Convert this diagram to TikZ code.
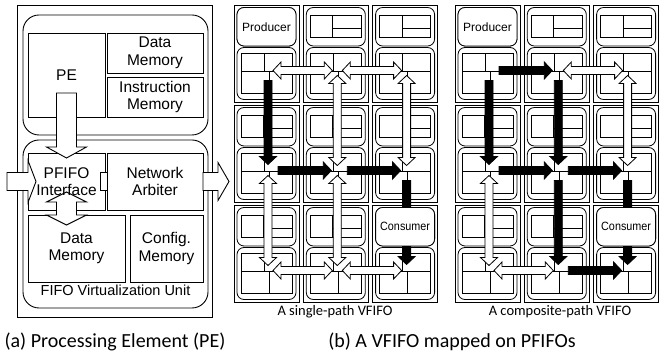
\documentclass[tikz,border=0pt]{standalone}
\usepackage{fontspec}
\setmainfont{Liberation Sans}
\newfontfamily\capfont{Carlito}
\newfontfamily\narrowfont[FakeStretch=0.9]{Liberation Sans}
\usetikzlibrary{calc}
\tikzset{
  gap s/.store in=\gapS, gap t/.store in=\gapT,
  arr shaft/.store in=\shaftw, arr head/.store in=\headw, arr len/.store in=\headl,
  gap s=0pt, gap t=0pt, arr shaft=4pt, arr head=8.5pt, arr len=8pt,
  % fat arrow drawn as an outline between two points
  one way/.style={to path={
    ($(\tikztostart)!\gapS!(\tikztotarget)$) coordinate (arrS)
    ($(\tikztotarget)!\gapT!(\tikztostart)$) coordinate (arrT)
    ($(arrT)!\headl!(\tikztostart)$) coordinate (arrQ)
    ($(arrS)!\shaftw!90:(\tikztotarget)$) -- ($(arrQ)!\shaftw!90:(\tikztotarget)$)
    -- ($(arrQ)!\headw!90:(\tikztotarget)$) -- (arrT)
    -- ($(arrQ)!\headw!-90:(\tikztotarget)$) -- ($(arrQ)!\shaftw!-90:(\tikztotarget)$)
    -- ($(arrS)!\shaftw!-90:(\tikztotarget)$) -- cycle}},
  both ways/.style={to path={
    ($(\tikztostart)!\gapS!(\tikztotarget)$) coordinate (arrS)
    ($(\tikztotarget)!\gapT!(\tikztostart)$) coordinate (arrT)
    ($(arrS)!\headl!(\tikztotarget)$) coordinate (arrP)
    ($(arrT)!\headl!(\tikztostart)$) coordinate (arrQ)
    (arrS) -- ($(arrP)!\headw!90:(\tikztotarget)$) -- ($(arrP)!\shaftw!90:(\tikztotarget)$)
    -- ($(arrQ)!\shaftw!90:(\tikztotarget)$) -- ($(arrQ)!\headw!90:(\tikztotarget)$) -- (arrT)
    -- ($(arrQ)!\headw!-90:(\tikztotarget)$) -- ($(arrQ)!\shaftw!-90:(\tikztotarget)$)
    -- ($(arrP)!\shaftw!-90:(\tikztotarget)$) -- ($(arrP)!\headw!-90:(\tikztotarget)$) -- cycle}},
  busy/.style={one way, fill=black, draw=black, line width=0.8pt, gap s=10pt, gap t=6pt},
  idle/.style={both ways, fill=white, draw=black, line width=0.8pt, gap s=5pt, gap t=5pt},
  big/.style={fill=white, draw=black, arr shaft=10pt, arr head=20pt, arr len=11pt},
  unit/.style={draw, align=center, inner sep=0pt, font=\fontsize{15.5}{17.5}\selectfont},
  pc/.style={draw, fill=white, rounded corners=7pt, minimum width=59pt, minimum height=38.5pt,
    inner sep=0pt, line width=0.8pt},
  caption/.style={font=\capfont\fontsize{20}{24}\selectfont},
  subcaption/.style={font=\capfont\fontsize{14.5}{16}\selectfont},
}
% one miniature PE tile, origin at its top left corner
\newcommand{\petile}{%
  \draw (0,0) rectangle (65,97);
  \draw[rounded corners=7pt] (3,2.5) rectangle (62,41);
  \draw (7,10) rectangle (58,32) (29.5,10) -- (29.5,32) (29.5,23) -- (58,23);
  \draw[rounded corners=7pt] (3,42.5) rectangle (62,94.5);
  \draw (7,48.5) rectangle (58,88.5) (7,66) -- (58,66) (30,48.5) -- (30,66) (35,66) -- (35,88.5);
}
% 3x3 mesh of tiles: #1 name prefix, #2 left edge
\newcommand{\pegrid}[2]{%
  \foreach \c in {1,2,3} \foreach \r in {1,2,3} {
    \begin{scope}[shift={({#2+69.3*(\c-1)},{5+100*(\r-1)})}, line width=0.8pt]
      \petile
      \coordinate (#1-\c-\r) at (34,65.5);
      \coordinate (#1-\c-\r-top) at (32.5,21.75);
    \end{scope}
  }
}

\begin{document}
\begin{tikzpicture}[x=1pt, y=-1pt, line width=0.9pt, font=\fontsize{14.5}{17}\selectfont]
\useasboundingbox (0,0) rectangle (672,352);

% (a) processing element
\draw (17,5) rectangle (212,317);
\draw[rounded corners=16pt] (23,15) rectangle (208,135);
\draw[rounded corners=16pt] (23,140) rectangle (208,308);
\node[unit, minimum width=77pt, minimum height=84pt] (pe) at (66.5,75) {PE};
\node[unit, minimum width=96pt, minimum height=40pt] (dmem) at (155,53) {Data\\Memory};
\node[unit, minimum width=96pt, minimum height=40pt] (imem) at (155,97) {Instruction\\Memory};
\node[unit, minimum width=77pt, minimum height=57pt] (pfifo) at (66.5,181.5) {};
\node[unit, minimum width=96pt, minimum height=57pt] (arb) at (155,181.5) {Network\\Arbiter};
\node[unit, minimum width=97pt, minimum height=67pt] (fmem) at (76.5,248.5) {Data\\Memory};
\node[unit, minimum width=73pt, minimum height=67pt] (cfg) at (166.5,248.5) {Config.\\Memory};
\node (fvu) at (115.5,290) {FIFO Virtualization Unit};

\coordinate (link-in) at (7,181.5);
\coordinate (link-out) at (229,181.5);
\coordinate (fifo-up) at (66.5,192);
\coordinate (fifo-dn) at (66.5,225);
\draw[big, one way, gap s=18pt, gap t=23.5pt] (pe) to (pfifo);
\draw[big, one way, arr shaft=9pt, arr head=21pt, arr len=8pt, gap t=30.5pt] (link-in) to (pfifo);
\draw[big, one way, arr shaft=9pt, arr head=19pt, gap s=48pt] (arb) to (link-out);
\draw[big, both ways, arr len=10pt] (fifo-up) to (fifo-dn);
\draw[fill=white] ($(pfifo.east)+(-5,-9)$) rectangle ($(arb.west)+(1,9)$);
\node[align=center, font=\fontsize{15.5}{17.5}\selectfont] (pfifo-txt) at (pfifo) {PFIFO\\Interface};

\node[caption] (cap-a) at (115,342) {(a) Processing Element (PE)};

% (b) single-path VFIFO
\pegrid{s}{234}
\foreach \a/\b in {s-1-1/s-2-1, s-2-1/s-3-1, s-2-1/s-2-2, s-3-1/s-3-2,
                   s-1-2/s-1-3, s-2-2/s-2-3, s-1-3/s-2-3, s-2-3/s-3-3}
  \draw[idle] (\a) to (\b);
\foreach \a/\b in {s-1-1/s-1-2, s-1-2/s-2-2, s-2-2/s-3-2, s-3-2/s-3-3}
  \draw[busy] (\a) to (\b);
\node[pc, font=\fontsize{12}{14}\selectfont] (prod-s) at (s-1-1-top) {Producer};
\node[pc, font=\narrowfont\fontsize{12}{14}\selectfont] (cons-s) at (s-3-3-top) {Consumer};
\node[subcaption] (cap-s) at (335,312) {A single-path VFIFO};

% (b) composite-path VFIFO
\pegrid{m}{455}
\foreach \a/\b in {m-2-1/m-3-1, m-3-1/m-3-2, m-1-2/m-1-3, m-1-3/m-2-3}
  \draw[idle] (\a) to (\b);
\foreach \a/\b in {m-1-1/m-2-1, m-1-1/m-1-2, m-2-1/m-2-2, m-1-2/m-2-2,
                   m-2-2/m-3-2, m-2-2/m-2-3, m-3-2/m-3-3, m-2-3/m-3-3}
  \draw[busy] (\a) to (\b);
\node[pc, font=\fontsize{12}{14}\selectfont] (prod-m) at (m-1-1-top) {Producer};
\node[pc, font=\narrowfont\fontsize{12}{14}\selectfont] (cons-m) at (m-3-3-top) {Consumer};
\node[subcaption] (cap-m) at (560,312) {A composite-path VFIFO};

\node[caption] (cap-b) at (452,342) {(b) A VFIFO mapped on PFIFOs};
\end{tikzpicture}
\end{document}
